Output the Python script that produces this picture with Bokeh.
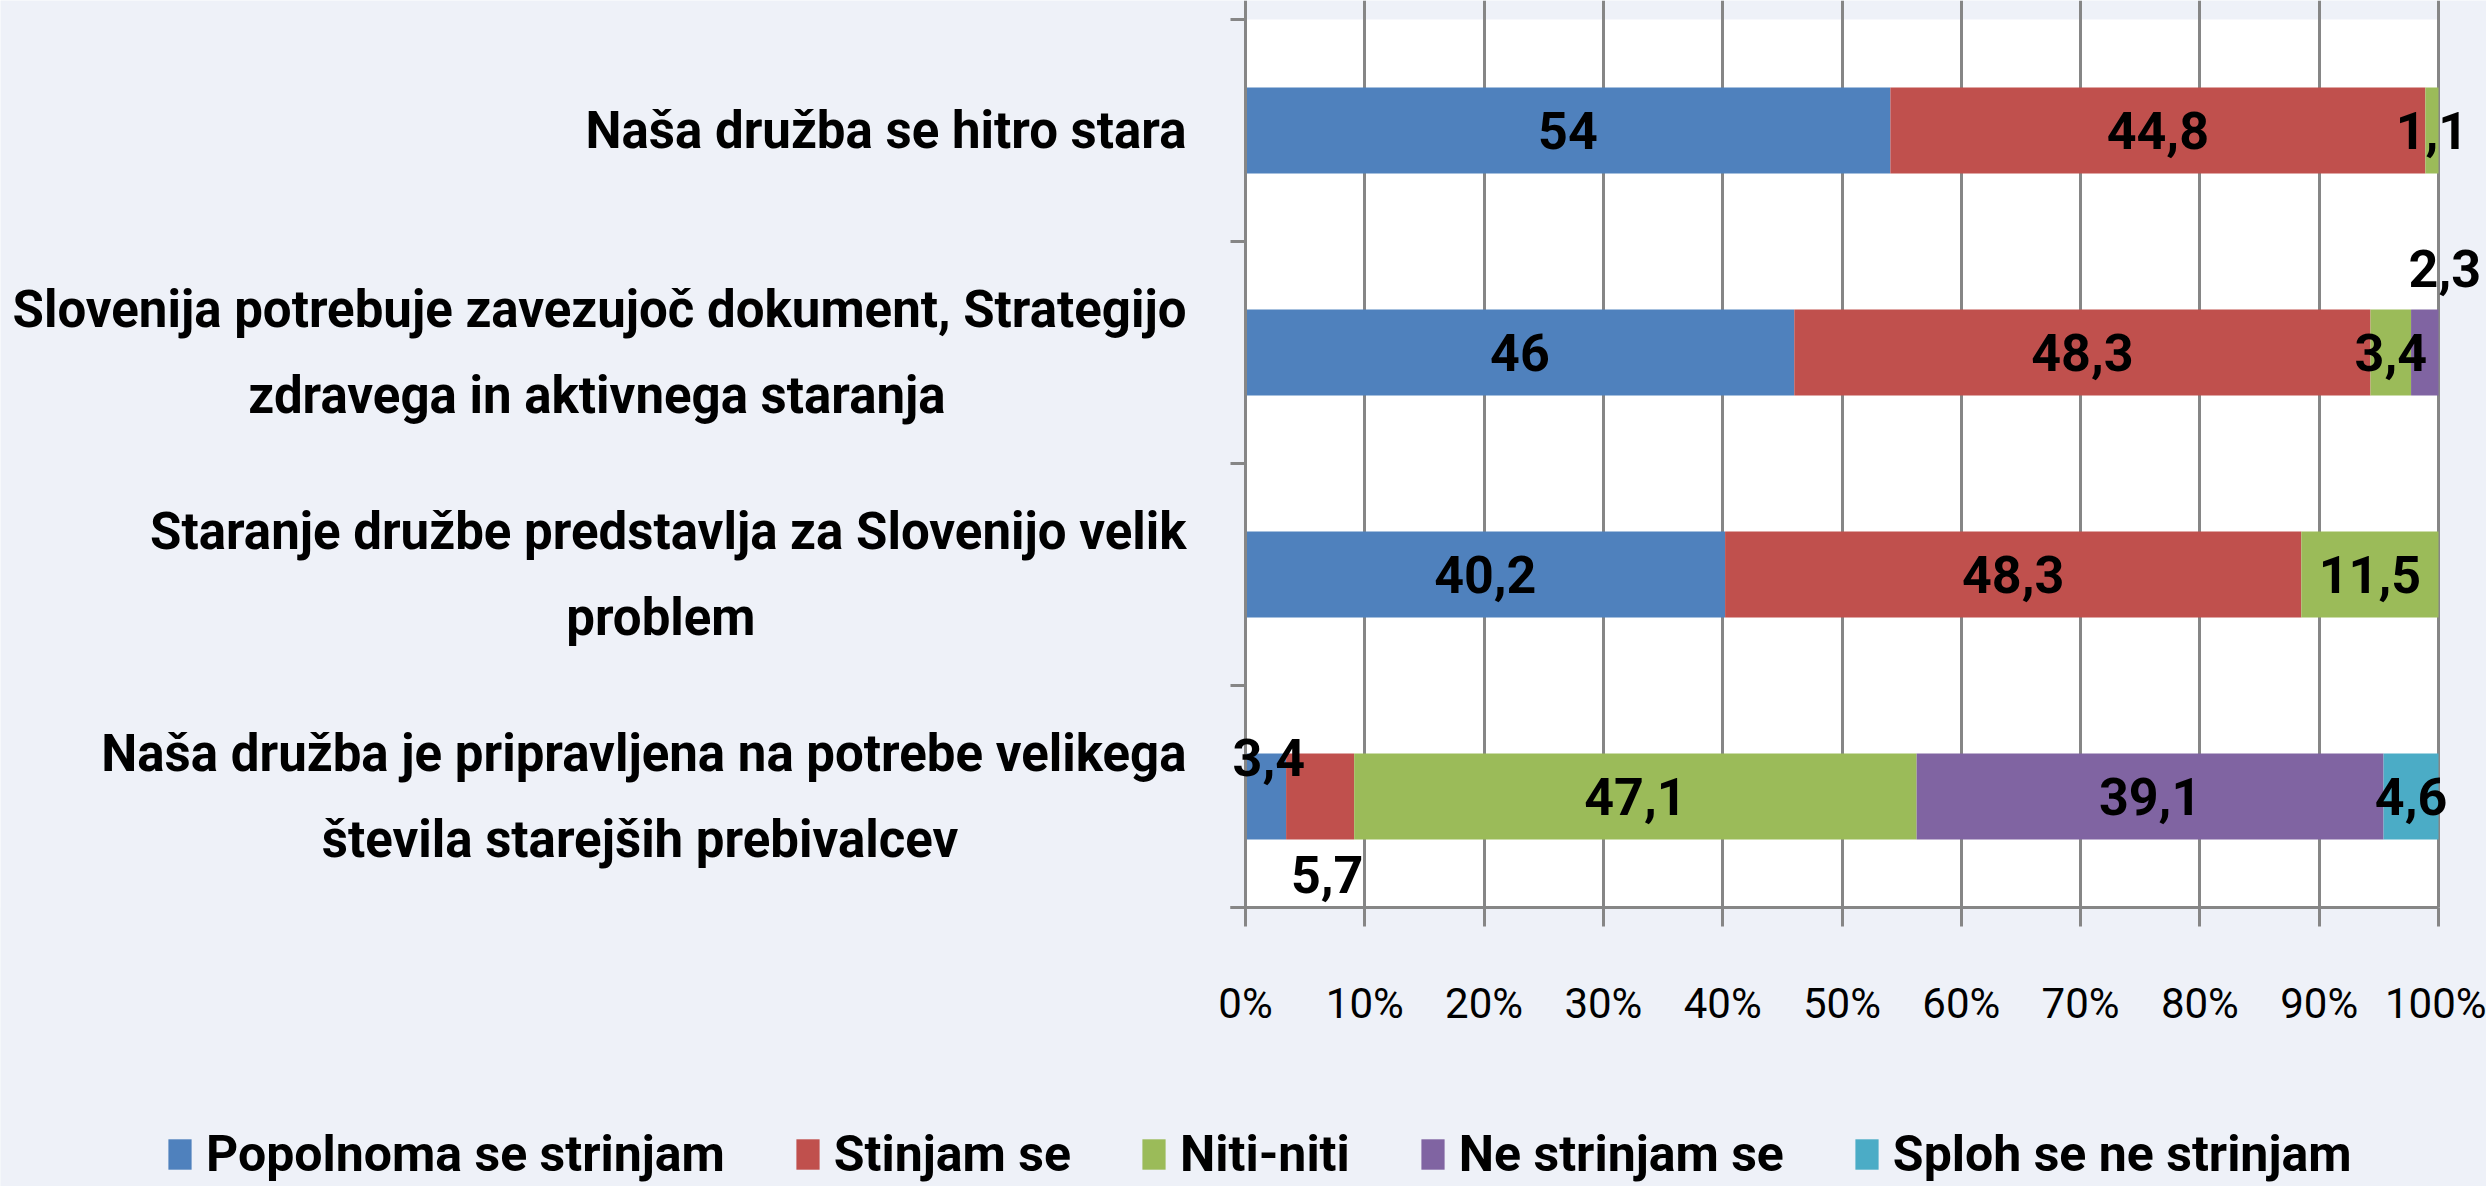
from bokeh.plotting import figure
from bokeh.models import (Range1d, FixedTicker, ColumnDataSource, LabelSet, Legend,
                          LegendItem, PrintfTickFormatter, BoxAnnotation, LinearAxis)
from bokeh.core.properties import value
from bokeh.embed import file_html
from bokeh.resources import INLINE

# ---------------- data ----------------
categories = [
    "Naša družba se hitro stara",
    "Slovenija potrebuje zavezujoč dokument, Strategijo\nzdravega in aktivnega staranja",
    "Staranje družbe predstavlja za Slovenijo velik\nproblem",
    "Naša družba je pripravljena na potrebe velikega\nštevila starejših prebivalcev",
]
series_names = ["Popolnoma se strinjam", "Stinjam se", "Niti-niti", "Ne strinjam se", "Sploh se ne strinjam"]
popolnoma = [54, 46, 40.2, 3.4]
stinjam = [44.8, 48.3, 48.3, 5.7]
niti = [1.1, 3.4, 11.5, 47.1]
ne = [0, 2.3, 0, 39.1]
sploh = [0, 0, 0, 4.6]
x_ticks = [0, 10, 20, 30, 40, 50, 60, 70, 80, 90, 100]

# ---------------- style / layout ----------------
colors = ["#4F81BD", "#C0504D", "#9BBB59", "#8064A2", "#4BACC6"]
FONT = "Roboto"
GRAY = "#868686"
BG = "#eef1f8"
W, H = 2486, 1186            # whole canvas is the frame
PLOT_LEFT, PLOT_TOP = 1245, 19
PX_PER_PCT = 11.93
PX_PER_ROW = 222
# manual label nudges (row index, series index) -> (dx, dy) in screen px
nudges = {(1, 3): (20, 84), (3, 0): (3, 39), (3, 1): (7, -78)}
# non-breaking-space padding that centres a shorter second line under the first
second_line_pad = {1: 19, 2: 34, 3: 18}

series = [popolnoma, stinjam, niti, ne, sploh]
n = len(categories)
ypos = [n - i - 0.5 for i in range(n)]
totals = [sum(s[i] for s in series) for i in range(n)]
keys = ["s%d" % k for k in range(len(series))]

data = {"y": ypos}
for k, s in zip(keys, series):
    data[k] = [100.0 * s[i] / totals[i] for i in range(n)]
source = ColumnDataSource(data)

x_min = -PLOT_LEFT / PX_PER_PCT
x_max = (W - PLOT_LEFT) / PX_PER_PCT
y_max = n + PLOT_TOP / PX_PER_ROW
y_min = y_max - H / PX_PER_ROW

p = figure(frame_width=W, frame_height=H,
           x_range=Range1d(x_min, x_max), y_range=Range1d(y_min, y_max),
           output_backend="svg", toolbar_location=None,
           min_border=0, x_axis_location=None, y_axis_location=None)
p.outline_line_color = None
p.background_fill_color = BG
p.border_fill_color = BG

# white plot area (0 - 100 %)
p.add_layout(BoxAnnotation(left=0, right=100, bottom=0, top=n, fill_color="white",
                           fill_alpha=1, line_color=None, level="image"))
# hide grid lines below the x axis
p.add_layout(BoxAnnotation(top=0, fill_color=BG, fill_alpha=1, line_color=None, level="glyph"))

renderers = p.hbar_stack(keys, y="y", height=0.387, source=source,
                         fill_color=colors, line_color=None)

# data labels
lx, ly, lt, lxo, lyo = [], [], [], [], []
for i in range(n):
    cum = 0.0
    for j, s in enumerate(series):
        v = data[keys[j]][i]
        if s[i] > 0:
            lx.append(cum + v / 2.0)
            ly.append(ypos[i])
            lt.append(("%g" % s[i]).replace(".", ","))
            dx, dy = nudges.get((i, j), (0, 0))
            lxo.append(dx)
            lyo.append(dy)
        cum += v
lsrc = ColumnDataSource(dict(x=lx, y=ly, text=lt, xo=lxo, yo=lyo))
p.add_layout(LabelSet(x="x", y="y", text="text", x_offset="xo", y_offset="yo",
                      source=lsrc, text_align="center", text_baseline="middle",
                      text_font=value(FONT), text_font_size="52px",
                      text_font_style="bold", text_color="black"))

# x axis at y = 0
xa = LinearAxis(fixed_location=0)
xa.ticker = FixedTicker(ticks=x_ticks)
xa.formatter = PrintfTickFormatter(format="%d%%")
xa.bounds = (-15 / PX_PER_PCT, 100)
xa.axis_line_color = GRAY
xa.axis_line_width = 3
xa.major_tick_line_color = GRAY
xa.major_tick_line_width = 3
xa.major_tick_out = 19
xa.major_tick_in = 0
xa.minor_tick_line_color = None
xa.major_label_standoff = 52
xa.major_label_text_font = FONT
xa.major_label_text_font_size = "42px"
xa.major_label_text_color = "black"
p.add_layout(xa, "below")

# y axis at x = 0 (labels at category centres, tick marks at category boundaries)
labels = {}
for i, (y, c) in enumerate(zip(ypos, categories)):
    if "\n" in c:
        c = c + "\u00a0" * second_line_pad.get(i, 0)
    labels[y] = c
ya = LinearAxis(fixed_location=0)
ya.ticker = FixedTicker(ticks=ypos, minor_ticks=list(range(n + 1)))
ya.major_label_overrides = labels
ya.bounds = (0, n)
ya.axis_line_color = GRAY
ya.axis_line_width = 3
ya.major_tick_line_color = None
ya.major_tick_out = 0
ya.major_tick_in = 0
ya.minor_tick_line_color = GRAY
ya.minor_tick_line_width = 3
ya.minor_tick_out = 15
ya.minor_tick_in = 0
ya.major_label_standoff = 44
ya.major_label_text_font = FONT
ya.major_label_text_font_size = "51px"
ya.major_label_text_font_style = "bold"
ya.major_label_text_color = "black"
ya.major_label_text_line_height = 1.45
p.add_layout(ya, "left")

# grid
p.xgrid.ticker = FixedTicker(ticks=x_ticks)
p.xgrid.grid_line_color = GRAY
p.xgrid.grid_line_width = 3
p.ygrid.grid_line_color = None

# legend
legend = Legend(items=[LegendItem(label=nm, renderers=[r]) for nm, r in zip(series_names, renderers)],
                orientation="horizontal", location=(165, 3),
                glyph_width=29, glyph_height=38, label_standoff=12, spacing=68,
                padding=0, margin=0, border_line_color=None, background_fill_alpha=0,
                label_text_font=FONT, label_text_font_size="50px",
                label_text_font_style="bold", label_text_color="black")
p.add_layout(legend, "center")

open("out.html", "w").write(file_html(p, INLINE))
